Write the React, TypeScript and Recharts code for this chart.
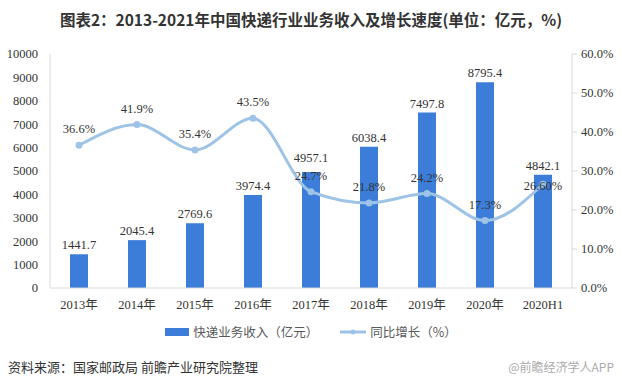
import React from 'react';
import { ComposedChart, Bar, Line, XAxis, YAxis, Legend, LabelList } from 'recharts';

const categories = ['2013年', '2014年', '2015年', '2016年', '2017年', '2018年', '2019年', '2020年', '2020H1'];
const revenue = [1441.7, 2045.4, 2769.6, 3974.4, 4957.1, 6038.4, 7497.8, 8795.4, 4842.1];
const growth = [36.6, 41.9, 35.4, 43.5, 24.7, 21.8, 24.2, 17.3, 26.6];
const growthLabels = ['36.6%', '41.9%', '35.4%', '43.5%', '24.7%', '21.8%', '24.2%', '17.3%', '26.60%'];
const leftTicks = [0, 1000, 2000, 3000, 4000, 5000, 6000, 7000, 8000, 9000, 10000];
const rightTicks = [0, 10, 20, 30, 40, 50, 60];

const data = categories.map((c, i) => ({ name: c, revenue: revenue[i], growth: growth[i], gl: growthLabels[i] }));

const BAR = '#3b7dd8';
const LINE = '#9dc3e6';
const serif = '"Liberation Serif", "Times New Roman", "Noto Sans CJK SC", serif';
const cjk = '"Noto Sans CJK SC", sans-serif';

const GrowthLabel = (props: any) => {
  const { x, y, value, index } = props;
  const last = index === categories.length - 1;
  return (
    <text x={x} y={last ? y + 6 : y - 12} textAnchor="middle" fontFamily={serif} fontSize={12.5} fill="#333">
      {value}
    </text>
  );
};

const BarLabel = (props: any) => {
  const { x, y, width, value, index } = props;
  const lift = index === 4 ? 10 : 5;
  return (
    <text x={x + width / 2} y={y - lift} textAnchor="middle" fontFamily={serif} fontSize={12.5} fill="#333">
      {Number(value).toFixed(1)}
    </text>
  );
};

const LegendContent = () => (
  <div style={{ display: 'flex', justifyContent: 'center', alignItems: 'center', fontFamily: cjk, fontSize: 12.5, color: '#595959' }}>
    <svg width={24} height={10} style={{ marginRight: 4 }}><rect x={0} y={1} width={24} height={8} fill={BAR} /></svg>
    <span style={{ marginRight: 22 }}>快递业务收入（亿元）</span>
    <svg width={26} height={10} style={{ marginRight: 4 }}>
      <line x1={0} y1={5} x2={26} y2={5} stroke={LINE} strokeWidth={3} />
      <circle cx={13} cy={5} r={2.5} fill={LINE} />
    </svg>
    <span>同比增长（%）</span>
  </div>
);

export default function App() {
  return (
    <div style={{ position: 'absolute', left: 0, top: 0, width: 622, height: 389, background: '#fff' }}>
      <div style={{ position: 'absolute', top: 8, left: 0, width: 622, textAlign: 'center', fontFamily: cjk, fontWeight: 700, fontSize: 15.5, color: '#333' }}>
        图表2：2013-2021年中国快递行业业务收入及增长速度(单位：亿元，%)
      </div>
      <div style={{ position: 'absolute', top: 0, left: 0 }}>
        <ComposedChart width={622} height={335} data={data} margin={{ top: 54, right: 0, left: 0, bottom: 0 }}>
          <XAxis dataKey="name" interval={0} tickLine={false} axisLine={{ stroke: '#d9d9d9' }} height={28}
            tick={{ fontFamily: serif, fontSize: 12.5, fill: '#333' }} tickMargin={6} />
          <YAxis yAxisId="l" width={50} domain={[0, 10000]} ticks={leftTicks} interval={0} tickLine={false}
            axisLine={{ stroke: '#d9d9d9' }} tick={{ fontFamily: serif, fontSize: 12.5, fill: '#333' }} tickMargin={6} />
          <YAxis yAxisId="r" orientation="right" width={50} domain={[0, 60]} ticks={rightTicks} interval={0}
            tickFormatter={(v: number) => v.toFixed(1) + '%'} tickLine={{ stroke: '#d9d9d9' }} tickSize={5}
            axisLine={{ stroke: '#d9d9d9' }} tick={{ fontFamily: serif, fontSize: 12.5, fill: '#333' }} tickMargin={4} />
          <Legend verticalAlign="bottom" content={<LegendContent />} wrapperStyle={{ bottom: -6 }} />
          <Bar yAxisId="l" dataKey="revenue" fill={BAR} barSize={18} isAnimationActive={false}>
            <LabelList dataKey="revenue" content={<BarLabel />} />
          </Bar>
          <Line yAxisId="r" type="monotone" dataKey="growth" stroke={LINE} strokeWidth={3}
            dot={{ r: 2, fill: LINE, stroke: LINE }} isAnimationActive={false}>
            <LabelList dataKey="gl" content={<GrowthLabel />} />
          </Line>
        </ComposedChart>
      </div>
      <div style={{ position: 'absolute', top: 357, left: 8, fontFamily: cjk, fontSize: 13, color: '#333' }}>
        资料来源：国家邮政局 前瞻产业研究院整理
      </div>
      <div style={{ position: 'absolute', top: 358, right: 8, fontFamily: cjk, fontSize: 12, color: '#aaa' }}>
        @前瞻经济学人APP
      </div>
    </div>
  );
}
